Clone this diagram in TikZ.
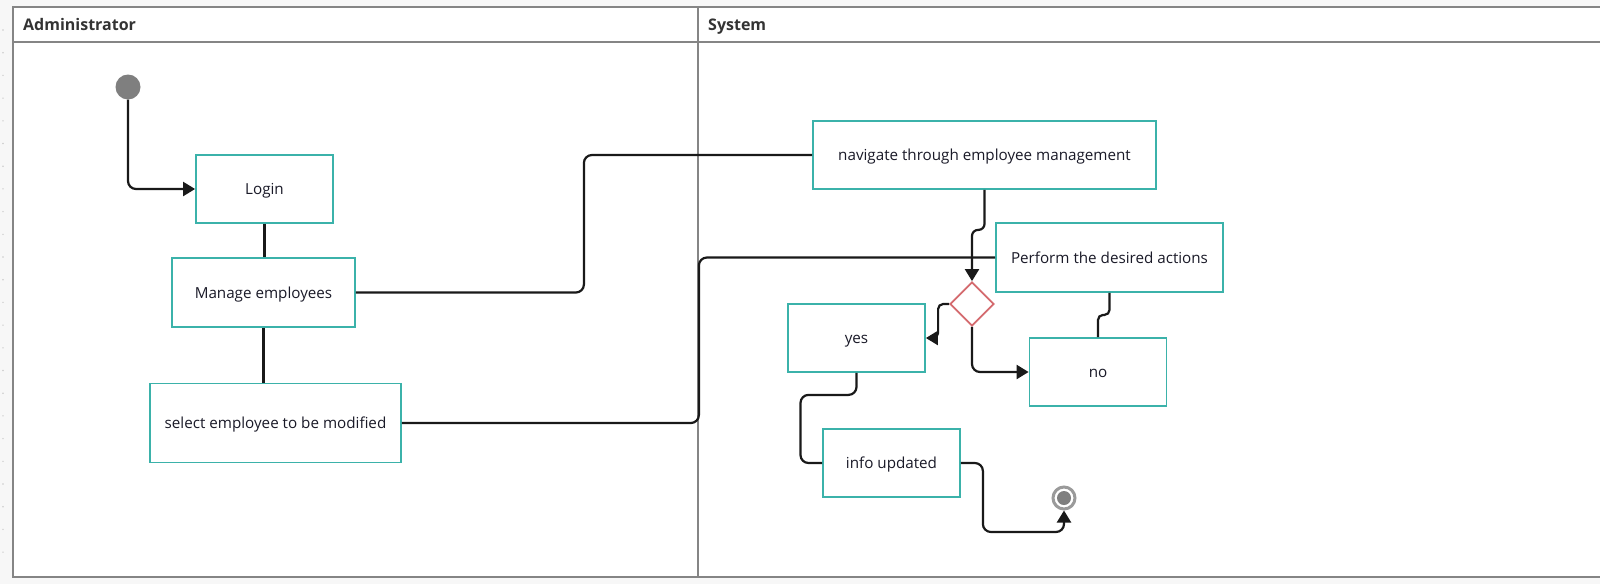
\documentclass[tikz,border=0pt]{standalone}
\usepackage{fontspec}
\setmainfont{Open Sans}
\usetikzlibrary{arrows.meta,shapes.geometric}
\definecolor{laneline}{HTML}{858585}
\definecolor{boxteal}{HTML}{3BB2AA}
\definecolor{decred}{HTML}{D46A6E}
\definecolor{dotgray}{HTML}{7F7F7F}
\definecolor{ringgray}{HTML}{9A9A9A}
\definecolor{inktext}{HTML}{1A1A28}
\tikzset{
  act/.style={draw=boxteal, line width=1.8pt, fill=white, minimum width=137pt,
    minimum height=68pt, inner sep=0pt, text=inktext, text height=11pt, text depth=0pt,
    font=\fontsize{15.2}{18}\selectfont},
  choicebox/.style={diamond, draw=decred, line width=1.8pt, fill=white,
    minimum width=44pt, minimum height=44pt, inner sep=0pt},
  flow/.style={draw=black!90, line width=2.2pt, rounded corners=8pt},
  go/.style={flow, -{Triangle[length=12pt,width=14pt]}},
  lane/.style={draw=laneline, line width=2pt},
  lanehead/.style={anchor=west, inner sep=0pt, text=black!80, text height=11pt, text depth=0pt,
    font=\fontsize{16}{19}\selectfont\bfseries},
}
\begin{document}
\begin{tikzpicture}[x=1pt,y=-1pt]
\useasboundingbox (0,0) rectangle (1600,584);
\clip (0,0) rectangle (1600,584);
\fill[black!3] (0,0) rectangle (1600,584);
\foreach \k in {0,...,23} \fill[black!20] (3,{30+\k*22.7}) circle (0.8pt);
% swimlanes
\draw[lane, fill=white] (13,7) rectangle (1620,577);
\draw[lane] (13,42) -- (1620,42);
\draw[lane] (698,7) -- (698,577);
\node[lanehead] (adm) at (23,25) {Administrator};
\node[lanehead] (sys) at (708,25) {System};

% activities
\node[circle, fill=dotgray, minimum size=25pt, inner sep=0pt] (start) at (128,87) {};
\node[act] (login) at (264.5,189) {Login};
\node[act, minimum width=183pt, minimum height=69pt] (manage) at (263.5,292.5) {Manage employees};
\node[act, minimum width=251pt, minimum height=79pt] (select) at (275.5,423) {select employee to be modified};
\node[act, minimum width=343pt] (navigate) at (984.5,155) {navigate through employee management};
\node[act, minimum width=227pt, minimum height=69pt] (perform) at (1109.5,257.5) {Perform the desired actions};
\node[choicebox] (choice) at (972,304) {};
\node[act] (yes) at (856.5,338) {yes};
\node[act] (no) at (1098,372) {no};
\node[act] (info) at (891.5,463) {info updated};
\node[circle, draw=ringgray, line width=3pt, minimum size=22pt, inner sep=0pt, fill=white,
  path picture={\fill[dotgray] (path picture bounding box.center) circle (7pt);}] (stop) at (1064,498) {};

% connectors
\draw[go] (start.south) |- (login.west);
\draw[flow] (login.south) -- (login.south |- manage.north);
\draw[flow] (manage.south) -- (manage.south |- select.north);
\draw[flow] (manage.east) -- ++(228,0) |- (navigate.west);
\draw[flow] (select.east) -- ++(297,0) |- (perform.west);
\draw[go, rounded corners=6pt] (navigate.south) -- ++(0,40) -| (choice.north);
\draw[go, rounded corners=5pt] (choice.west) -- ++(-11,0) |- (yes.east);
\draw[go] (choice.south) |- (no.west);
\draw[flow, rounded corners=5pt] (perform.south) -- ++(0,22) -| (no.north);
\draw[flow] (yes.south) -- ++(0,22) -- ++(-56,0) |- (info.west);
\draw[go] (info.east) -- ++(22,0) -- ++(0,69) -| (stop.south);
\end{tikzpicture}
\end{document}
